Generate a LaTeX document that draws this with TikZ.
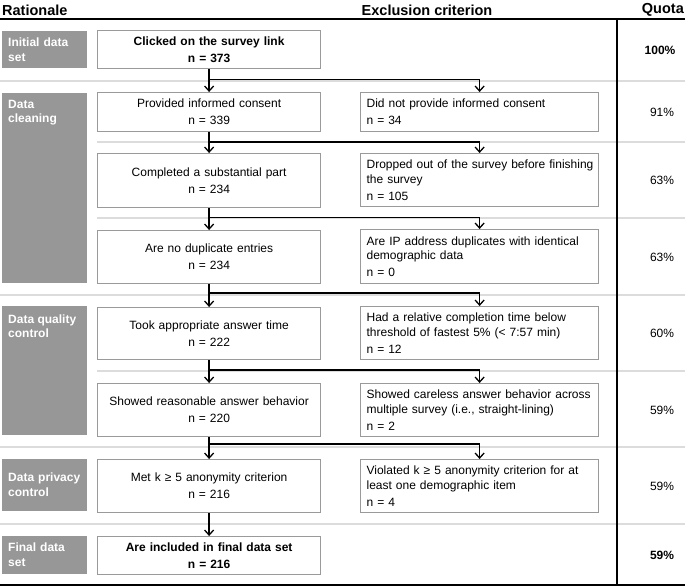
\documentclass[tikz,border=0pt]{standalone}
\usepackage{fontspec}
\setmainfont{Liberation Sans}
\usetikzlibrary{arrows.meta,calc}
\definecolor{labgray}{HTML}{979797}
\definecolor{boxgray}{HTML}{9A9A9A}
\definecolor{sepgray}{HTML}{DCDCDC}
\tikzset{
  base/.style={font=\fontsize{12}{14.5}\selectfont, inner sep=0pt},
  lab/.style={base, fill=labgray, text=white, font=\fontsize{12}{15}\selectfont\bfseries,
     anchor=north west, align=left, inner xsep=6pt, inner ysep=0pt, text width=73pt, minimum width=85pt},
  labtxt/.style={base, text=white, font=\fontsize{12}{14.5}\selectfont\bfseries,
     anchor=north west, align=left},
  lbox/.style={base, draw=boxgray, line width=1.2pt, fill=white, anchor=north west,
     minimum width=223pt, align=center, text width=211pt},
  rbox/.style={base, draw=boxgray, line width=1.2pt, fill=white, anchor=north west,
     minimum width=238pt, align=left, text width=226pt, inner xsep=6pt},
  quota/.style={base},
  head/.style={base, font=\fontsize{14.5}{16}\selectfont\bfseries},
  sep/.style={draw=sepgray, line width=1.3pt},
  rule/.style={draw=black, line width=1.6pt},
  conn/.style={draw=black, line width=1.4pt},
  arr/.style={conn, -{Straight Barb[length=5pt,width=9pt,line width=1.3pt]}},
}
\begin{document}
\begin{tikzpicture}[x=1pt,y=-1pt]
\useasboundingbox (0,0) rectangle (685,588);
\fill[white] (0,0) rectangle (685,588);
% separators
\draw[sep] (0,81) -- (685,81);
\draw[sep] (97,142) -- (685,142);
\draw[sep] (97,218) -- (685,218);
\draw[sep] (0,295) -- (685,295);
\draw[sep] (97,371) -- (685,371);
\draw[sep] (0,447) -- (685,447);
\draw[sep] (0,524) -- (685,524);
% headers
\node[head, anchor=west] (hr) at (2,10) {Rationale};
\node[head] (he) at (427,10) {Exclusion criterion};
\node[head, anchor=east] (hq) at (684,10) {Quota};
\draw[rule] (0,19) -- (685,19);
\draw[rule] (0,585) -- (685,585);
\draw[rule] (617,19) -- (617,585);
% labels
\node[lab, minimum height=37pt] (l1) at (2,31) {Initial data\\set};
\node[lab, minimum height=190pt] (l2) at (2,93) {};
\node[labtxt] (l2t) at (8,100) {Data\\cleaning};
\node[lab, minimum height=129pt] (l3) at (2,306) {};
\node[labtxt] (l3t) at (8,314.5) {Data quality\\control};
\node[lab, minimum height=52pt] (l4) at (2,459) {Data privacy\\control};
\node[lab, minimum height=38pt] (l5) at (2,536) {Final data\\set};
% left boxes
\node[lbox, minimum height=38pt, font=\fontsize{12}{14.5}\selectfont\bfseries] (b1) at (97,30) {Clicked on the survey link\\[2.5pt] n = 373};
\node[lbox, minimum height=39pt] (b2) at (97,92) {Provided informed consent\\[2.5pt] n = 339};
\node[lbox, minimum height=54pt] (b3) at (97,153) {Completed a substantial part\\[2.5pt] n = 234};
\node[lbox, minimum height=53pt] (b4) at (97,230) {Are no duplicate entries\\[2.5pt] n = 234};
\node[lbox, minimum height=52pt] (b5) at (97,307) {Took appropriate answer time\\[2.5pt] n = 222};
\node[lbox, minimum height=53pt] (b6) at (97,383) {Showed reasonable answer behavior\\[2.5pt] n = 220};
\node[lbox, minimum height=53pt] (b7) at (97,459) {Met k ≥ 5 anonymity criterion\\[2.5pt] n = 216};
\node[lbox, minimum height=38pt, font=\fontsize{12}{14.5}\selectfont\bfseries] (b8) at (97,536) {Are included in final data set\\[2.5pt] n = 216};
% right boxes
\node[rbox, minimum height=39pt] (r1) at (360,92) {Did not provide informed consent\\[2.5pt] n = 34};
\node[rbox, minimum height=53pt] (r2) at (360,153) {\mbox{Dropped out of the survey before finishing}\\\mbox{the survey}\\[2.5pt] n = 105};
\node[rbox, minimum height=54pt] (r3) at (360,229) {\mbox{Are IP address duplicates with identical}\\\mbox{demographic data}\\[2.5pt] n = 0};
\node[rbox, minimum height=53pt] (r4) at (360,306) {\mbox{Had a relative completion time below}\\\mbox{threshold of fastest 5\% (< 7:57 min)}\\[2.5pt] n = 12};
\node[rbox, minimum height=53pt] (r5) at (360,383) {\mbox{Showed careless answer behavior across}\\\mbox{multiple survey (i.e., straight-lining)}\\[2.5pt] n = 2};
\node[rbox, minimum height=53pt] (r6) at (360,459) {\mbox{Violated k ≥ 5 anonymity criterion for at}\\\mbox{least one demographic item}\\[2.5pt] n = 4};
% quotas
\node[quota, font=\fontsize{12}{14.5}\selectfont\bfseries] (q1) at (660,50) {100\%};
\node[quota] (q2) at (662,112) {91\%};
\node[quota] (q3) at (662,180) {63\%};
\node[quota] (q4) at (662,257) {63\%};
\node[quota] (q5) at (662,333) {60\%};
\node[quota] (q6) at (662,410) {59\%};
\node[quota] (q7) at (662,486) {59\%};
\node[quota, font=\fontsize{12}{14.5}\selectfont\bfseries] (q8) at (662,555) {59\%};
% junctions
\coordinate (j1) at (b1.south |- 0,79.5);
\coordinate (j2) at (b2.south |- 0,142);
\coordinate (j3) at (b3.south |- 0,217.5);
\coordinate (j4) at (b4.south |- 0,293);
\coordinate (j5) at (b5.south |- 0,370);
\coordinate (j6) at (b6.south |- 0,444);
% connectors
\draw[arr] (b1.south) -- (b2.north);
\draw[arr] (b2.south) -- (b3.north);
\draw[arr] (b3.south) -- (b4.north);
\draw[arr] (b4.south) -- (b5.north);
\draw[arr] (b5.south) -- (b6.north);
\draw[arr] (b6.south) -- (b7.north);
\draw[arr] (b7.south) -- (b8.north);
\draw[arr] (j1) -| (r1.north);
\draw[arr] (j2) -| (r2.north);
\draw[arr] (j3) -| (r3.north);
\draw[arr] (j4) -| (r4.north);
\draw[arr] (j5) -| (r5.north);
\draw[arr] (j6) -| (r6.north);
\end{tikzpicture}
\end{document}
